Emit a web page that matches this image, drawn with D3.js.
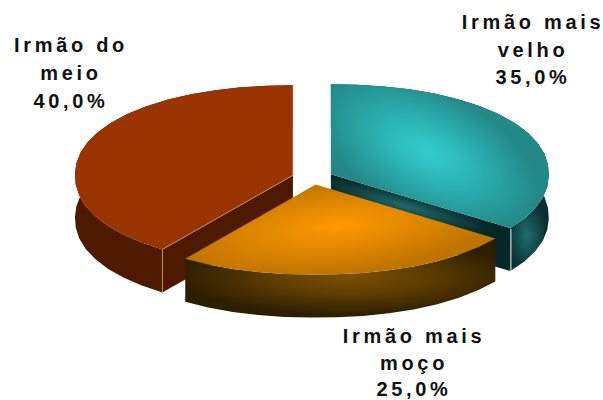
<!DOCTYPE html>
<html>
<head>
<meta charset="utf-8">
<style>
html,body{margin:0;padding:0;background:#fff;}
svg{display:block;}
text{font-family:"Liberation Sans",Arial,sans-serif;font-weight:bold;font-size:20px;fill:#111;letter-spacing:3.7px;text-anchor:middle;}
</style>
</head>
<body>
<svg id="c" width="603" height="400"></svg>
<script src="https://cdn.jsdelivr.net/npm/d3@7"></script>
<script>
const categories = ["Irmão mais velho", "Irmão mais moço", "Irmão do meio"];
const values = [35, 25, 40];
const labelLines = [["Irmão mais", "velho", "35,0%"], ["Irmão mais", "moço", "25,0%"], ["Irmão do", "meio", "40,0%"]];
const labelCenters = [[533, 29], [414, 343], [71, 52]];
const labelLeading = [27.5, 26.5, 28];

const W = 603, H = 400;
const cx = 312.5, cy = 177.5, rx = 218, ry = 90, depth = 43, explode = 20.6, explodeK = 0.35;
const stepDeg = 7, rimPower = 2.12;

const svg = d3.select("#c");
const defs = svg.append("defs");

function radial(id, c, r, rot, stops) {
  const g = defs.append("radialGradient").attr("id", id)
    .attr("gradientUnits", "userSpaceOnUse")
    .attr("cx", 0).attr("cy", 0).attr("r", 1)
    .attr("gradientTransform", `translate(${c[0]},${c[1]}) rotate(${rot}) scale(${r[0]},${r[1]})`);
  stops.forEach(s => g.append("stop").attr("offset", s[0]).attr("stop-color", s[1]));
  return `url(#${id})`;
}

const styles = [
  {
    top: radial("tealTop", [428, 152], [120, 62], 28, [[0, "#33CCCC"], [0.35, "#2DB8B8"], [1, "#238888"]]),
    wall: radial("tealWall", [527, 235], [20, 36], 0, [[0, "#1F6E6E"], [1, "#0A2E30"]]),
    face: radial("tealFace", [405, 206], [92, 13], 16, [[0, "#1F6A6A"], [1, "#072628"]]),
    edge: null
  },
  {
    top: radial("orTop", [338, 226], [165, 48], -6, [[0, "#FF9900"], [0.4, "#E58A00"], [1, "#BF7300"]]),
    wall: radial("orWall", [350, 277], [170, 38], 0, [[0, "#7A4E00"], [0.45, "#5E3E00"], [1, "#2E1E00"]]),
    face: "#2E1E00",
    edge: null
  },
  { top: "#993300", wall: "#4D1A00", face: "#4D1A00", edge: "#D9A88F" }
];

const slices = d3.pie().sort(null).value(d => d)(values);
const line = d3.line().x(d => d[0]).y(d => d[1]);

function geom(s) {
  const mid = (s.startAngle + s.endAngle) / 2;
  const ox = cx + explode * Math.sin(mid);
  const oy = cy - explode * explodeK * Math.cos(mid);
  const n = Math.max(2, Math.round((s.endAngle - s.startAngle) * 180 / Math.PI / stepDeg));
  const scaleA = d3.scaleLinear().domain([0, n]).range([s.startAngle, s.endAngle]);
  const rim = d3.range(n + 1).map(i => {
    const a = scaleA(i), sa = Math.sin(a), ca = Math.cos(a);
    const k = Math.pow(Math.pow(Math.abs(sa), rimPower) + Math.pow(Math.abs(ca), rimPower), -1 / rimPower);
    return [ox + rx * k * sa, oy - ry * k * ca];
  });
  return { o: [ox, oy], rim };
}
const down = p => [p[0], p[1] + depth];

function drawSlice(i) {
  const g = geom(slices[i]), st = styles[i];
  const group = svg.append("g").attr("class", "slice").attr("data-name", categories[i]);
  const rim = g.rim;
  const cut = i === 0 ? rim[rim.length - 1] : rim[0];

  group.append("path")
    .attr("d", line(rim.concat(rim.map(down).reverse())) + "Z")
    .attr("fill", st.wall);

  if (i !== 1) {
    group.append("path")
      .attr("d", line([g.o, cut, down(cut), down(g.o)]) + "Z")
      .attr("fill", st.face);
  }

  group.append("path")
    .attr("d", line([g.o].concat(rim)) + "Z")
    .attr("fill", st.top);

  if (st.edge) {
    group.append("path").attr("d", line([g.o, cut, down(cut)]))
      .attr("fill", "none").attr("stroke", st.edge).attr("stroke-width", 0.7);
    group.append("path").attr("d", line([rim[rim.length - 1], g.o]))
      .attr("fill", "none").attr("stroke", st.edge).attr("stroke-width", 0.5);
  }
  if (i === 0) {
    group.append("path").attr("d", line([cut, down(cut)].map(p => [p[0] + 0.5, p[1] + 1])))
      .attr("fill", "none").attr("stroke", "#EAF4F4").attr("stroke-width", 0.9);
  }
}

[2, 0, 1].forEach(drawSlice);

labelLines.forEach((lines, i) => {
  const t = svg.append("text");
  lines.forEach((l, j) => {
    t.append("tspan")
      .attr("x", labelCenters[i][0])
      .attr("y", labelCenters[i][1] + j * labelLeading[i])
      .text(l);
  });
});
</script>
</body>
</html>
